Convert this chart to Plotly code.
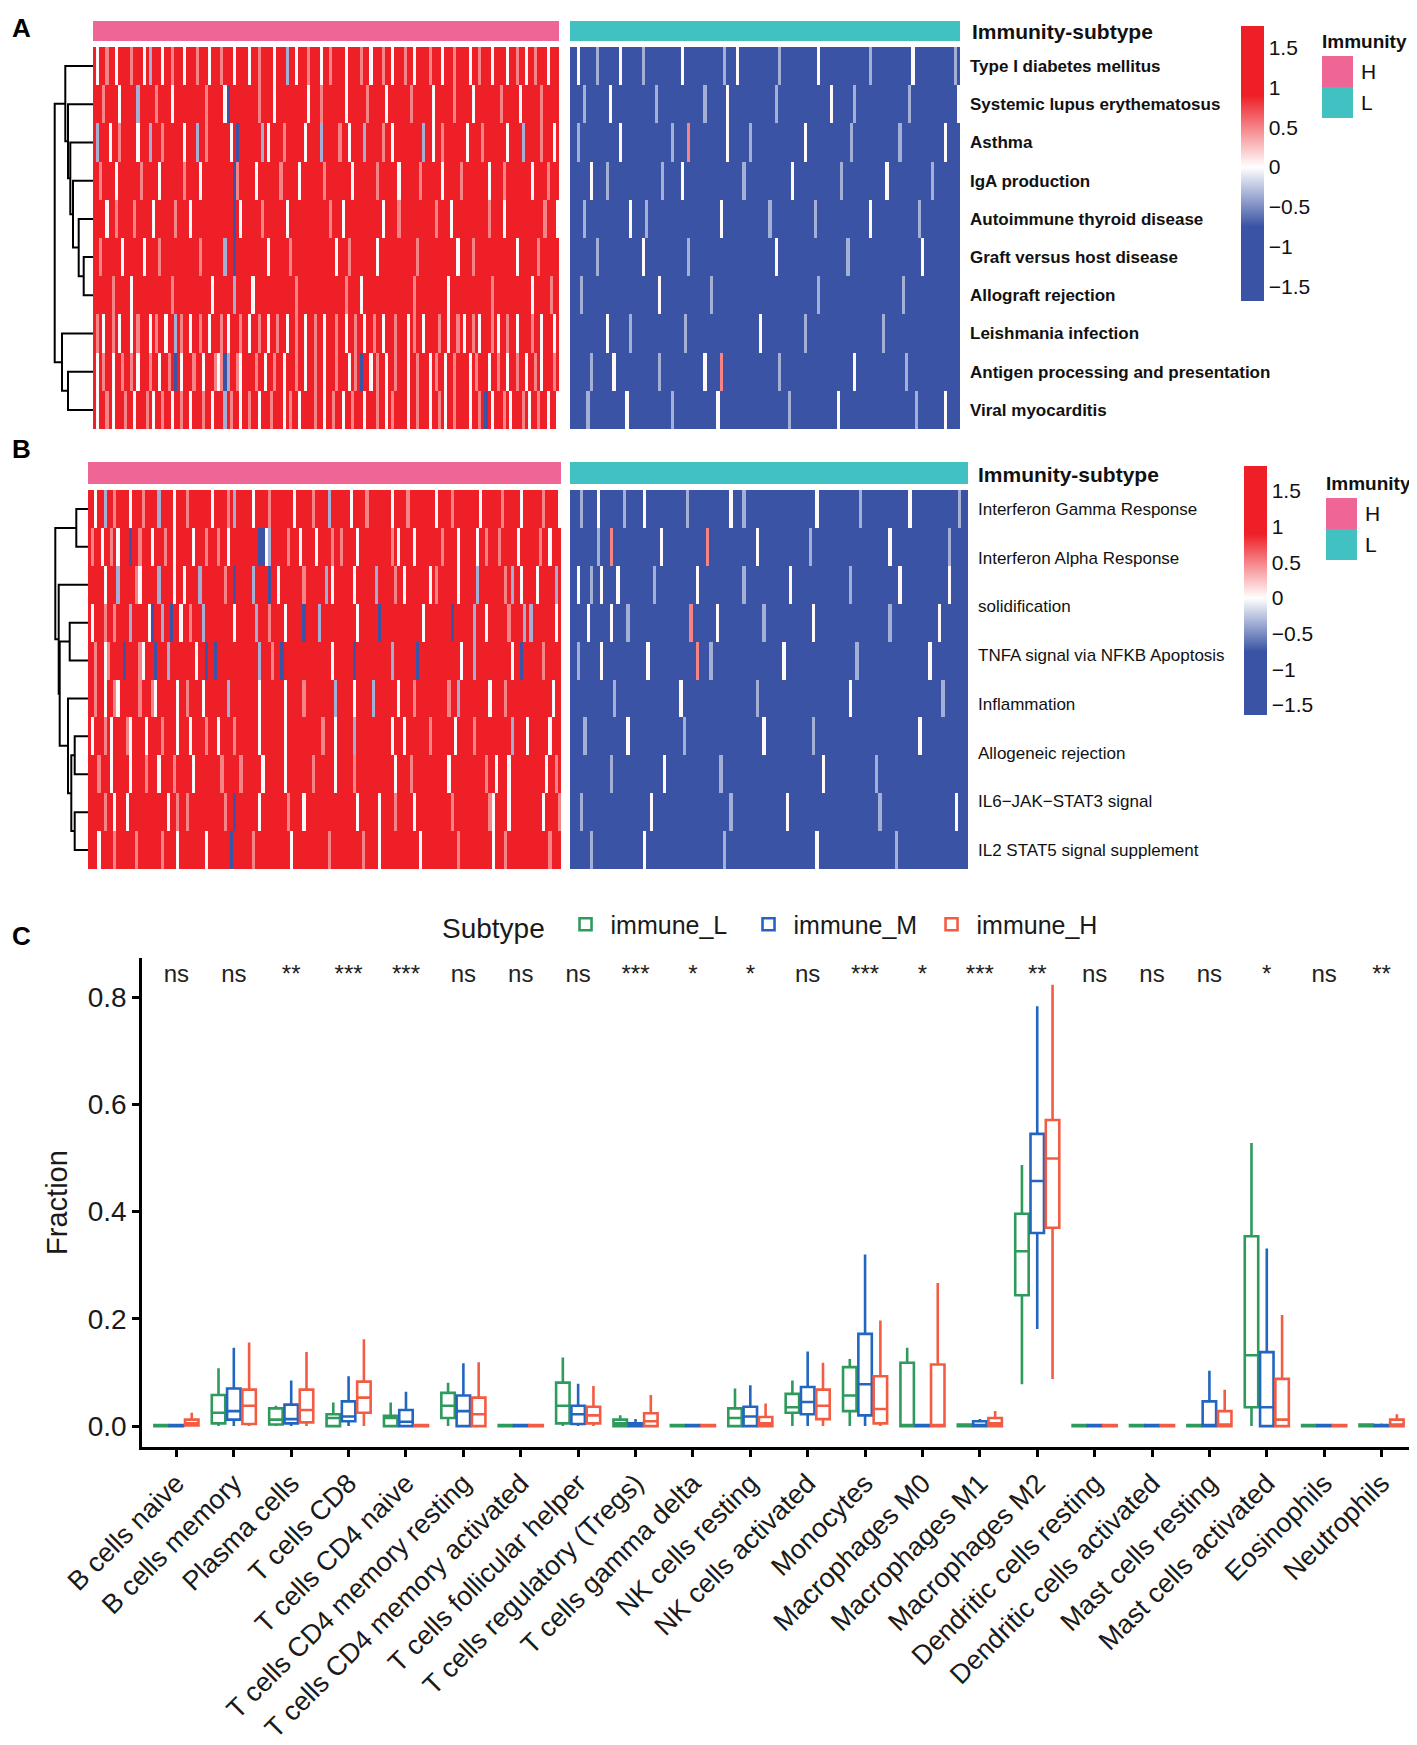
import plotly.graph_objects as go

W, H = 1417, 1745
FONT = "Liberation Sans, Arial, sans-serif"

# ---------------- data: panel A ----------------
pathways_a = [
    "Type I diabetes mellitus", "Systemic lupus erythematosus", "Asthma",
    "IgA production", "Autoimmune thyroid disease", "Graft versus host disease",
    "Allograft rejection", "Leishmania infection",
    "Antigen processing and presentation", "Viral myocarditis",
]

# one character per sample: R strong red ... B strong blue
rows_a_high = [
    "RwRRpRRwRR RRpRRRwRvR RRwRRpRRRw RRRpRRRwRR RpRRRwRRRR wRRpRRRRwR RRvRRwRRRp RRRwRRpRRR RwRRRRpRRw RRRpRRwRRR pRRwRRRRpR RRwRRRpRRR RwRRpRRRwR RRRwRRpRRw RRpRRRwRRR",
    "RRRpRRRRwR RRRRvRRRRR pRRRRwRRRR RRRRRRpRRR RRwbRRRRRR RRRpRRRRwR RRRRRRRRRw RRRpRRRRRR RwRRRRRRpR RRRRwRRRRR RRpRRRRRRw RRRRRRpRRR RRwRRRRRRR RpRRRRRwRR RRRRpRRRRR",
    "RvRRRwRRpR RRRRwRRRvR RRpRRRRRRw RRRvRRpRRR RRRRwRbRRR RRRRvRwRRR RpRRRRRRwR RRRvRRRRRp RRwRRRRvRR RRRpRRwRRR RRRRRRvRRw RRpRRRRRRR wRRRRpRRRR RRRwRRRRvR RRRRpRRRwR",
    "RRpRRRRwRR RRRRRpRRRR RwRRRRRRRp RRRRwRRRRR RRRRRbpRRR RRwRRRRRRR pRRRRRwRRR RRRRpRRRRR RRRwRRRRRR RpRRRRRRwR RRRRRpRRRR RRwRRRRRpR RRRRRRRwRR RRpRRRRRRR RwRRRRpRRR",
    "RRRRwRRpRR RRRpRRRRRw RRRRRRpRRR RwRRRRRRRR RRRRRbRwRR RRRRpRRRRR RRwRRRRRRR RRRRRRpRRR wRRRRRRRRR RRRwRRRRpR RRRRRRRRRR pRRRRwRRRR RRRRRRRpRR RRwRRRRRRR RRRRRpRRRw",
    "RRpRRRRRRw RRRRRRwRRR RpRRRRRRRR RRRRpRRRRR RRvRRbRRRR RRRRRRwRRR RRRpRRRRRR RRRRRRRRwR RRpRRRRRRR RwRRRRRRRR RRRRpRRRRR RRRRRRRwRR RRpRRRRRRR RRRRRRwRRR RRRpRRRRRR",
    "RRRRRRpRRR RRwRRRRRRR RRRRRpRRRR RRRRRRRRwR RRRRRvRRRR RwRRRRRRRR RRRRRpRRRR RRRRRRRRRR RpRRRRwRRR RRRRRRRRRR RRRpRRRRRR RRRRwRRRRR RRRRRRRRpR RRRRRRRRRR RwRRRRRpRR",
    "RpRwRRpRwR RRwRpRRRwR pRRwRRvRpR RwRRpRRwRR RpRwRRRpRR wRRpRRwRRp RRwRRpRRwR RpRRwRRRpR RwRRpRRwRR pRRwRRRpRR RwRpRRwRRR RpRRwRRpRw RRpRwRRRpR wRRpRRwRRR RpRRwRRRwR",
    "RwRpRRwRRp RRpRwRRRpR RwRRpRbRwR RRpRRwRRRp wpBvRRpwRR RRpRRwRRpR RwRRRpRRwR RpRRwRRRpR RRwRpRbRRw RpRRwRRpRR RwRRpRRRwR pRRwRRpRRR RwRpRRRwRR pRRwRRpRRw RRpRwRRRpR",
    "RwRRpRwRRR pRRwRRRpRw RRpRRwRRpR RwRRRpRRwR RRvRpRRwRR pRRwRRRpRR RwRpRRwRRR RpRRwRRpRR wRRpRRRwRR RpRRwRpRRR RwRRpRRRwR RpRwRRpRRR RwRRpRbRwR RRpRwRRRpR wRRpRRwRRw",
]
rows_a_low = [
    "BBwBBBBBvB BBBBBwBBBB BBvBBBBBBB BBBBwBBBBB BBBBBBBvBB BwBBBBBBBB BBBBvBBBBB BBBBBBwBBB BBBBBBBBBB BBvBBBBBBB BBBBBwBBBB BBBBBBBBvB",
    "BBBBvBBBBB BBwBBBBBBB BBBBBBvBBB BBBBBBBBBB BvBBBBBBwB BBBBBBBBBB BBBvBBBBBB BBBBBBBBBB wBBBBBBvBB BBBBBBBBBB BBBBvBBBBB BBBBBBBBBw",
    "BBvBBBBBBB BBBBBwBBBB BBBBBBBBBB BvBBBBpBBB BBBBBBBBwB BBBBBvBBBB BBBBBBBBBB BBwBBBBBBB BBBBBBvBBB BBBBBBBBBB BvBBBBBBBB BBBBBwBBBB",
    "BBBBBBwBBB BvBBBBBBBB BBBBBBBBvB BBBBwBBBBB BBBBBBBBBB BBBvBBBBBB BBBBBBBBwB BBBBBBBBBB BBBvBBBBBB BBBBBBBwBB BBBBBBBBBB BvBBBBBBBB",
    "BBBBvBBBBB BBBBBBBBwB BBBvBBBBBB BBBBBBBBBB BBBBBBwBBB BBBBBBBBBB BvBBBBBBBB BBBBBvBBBB BBBBBBBBBB BBwBBBBBBB BBBBBBBvBB BBBBBBBBBB",
    "BBBBBBBBvB BBBBBBBBBB BBwBBBBBBB BBBBBBvBBB BBBBBBBBBB BBBBBBBBBB BBBwBBBBBB BBBBBBBBBB BBBBBvBBBB BBBBBBBBBB BBBBBBBBwB BBBBBBBBBB",
    "BBBvBBBBBB BBBBBBBBBB BBBBBBBwBB BBBBBBBBBB BBBvBBBBBB BBBBBBBBBB BBBBBBBBBB BBBBBBvBBB BBBBBBBBBB BBBBBBBBBB BBvBBBBBBB BBBBBBBBBB",
    "BBBBBBBBBB BwBBBBBBvB BBBBBBBBBB BBBBBvBBBB BBBBBBBBBB BBBBBBBBwB BBBBBBBBBB BBvBBBBBBB BBBBBBBBBB BBBBBBvBBB BBBBBBBBBB BBBBBBBBBB",
    "BBBBBBvBBB BBBwBBBBBB BBBBBBBvBB BBBBBBBBBB BwBBBBpBBB BBBBBBBBBB BBBBvBBBBB BBBBBBBBBB BBBBBBBwBB BBBBBBBBBB BBBvBBBBBB BBBBBBBBBB",
    "BBBBBvBBBB BBBBBBBwBB BBBBBBBBBB BvBBBBBBBB BBBBBwBBBB BBBBBBBBBB BBBBBBBvBB BBBBBBBBBB BBwBBBBBBB BBBBBBBBBB BBBBBBvBBB BBBBBwBBBB",
]
# (left node, right node, height); new clusters are numbered from 10 upwards
merges_a = [(5, 6, 9.3), (4, 10, 14.3), (3, 11, 20.0), (2, 12, 22.7), (1, 13, 25.0),
            (0, 14, 27.7), (8, 9, 25.0), (7, 16, 31.0), (15, 17, 38.3)]

# ---------------- data: panel B ----------------
pathways_b = [
    "Interferon Gamma Response", "Interferon Alpha Response", "solidification",
    "TNFA signal via NFKB Apoptosis", "Inflammation", "Allogeneic rejection",
    "IL6\u2212JAK\u2212STAT3 signal", "IL2 STAT5 signal supplement",
]
rows_b_high = [
    "RRwRRvRRpR RRRwRRRpRR RRvRRRRwRR RpRRRRRRRw RRRRpRvRRR RRwRRRRpRR RRRRRwRRRR RpRRRRvRRR RRRwRRRRpR RRRRRRwRRR RpRRRRRRRR wRRRRpRRRR RRRRwRRRRR RpRRRRRwRR RRRRpRRRRw",
    "RpRRwRRpRw RRRbRRpRRR wRRRpRRwRR RRRwRRRpRR RpRRwRRRRR RRRRbBwvRR RRRpRRRwRR RRwRRRRpRR pRRRRwRRRR RRRRRRpRwR RRRwRRRRRR RRpRRRRwRR RRRwRRpRRR pRRRRRwRRR RRRpRRwRRR",
    "RRRRRwRRRv RRRRRpwRRR RRvRRRRwRR wRRRRvRRRR RRRpRRbRRR RRvRRRRbRR wRRRRRRRpR RRRRRvRwRR RRRRwRRRRR RvRRRRRpRR wRRRRRRRwR pRRRRRRwRR RRRvRRRRRR RRpRvRRwRR RRwRRRRRvR",
    "RwRRRpRRpR RRRvRRRRRw bRRvRRbRRw RRpRRRvRRR RRRRRRwRRR RRRvRRRpRR RRwRRRRRbR RRRvRRRRRR RRRRRwRRRR RRbRRRRRRR RRRRRRwRRR RRRRRbRRRR RRvRRRwRRR RRRpRRRRvR vRRRRRRRwR",
    "RRpRRwpRRR RbRRRRpwRR RbRRRvRRRR RRRRwRRbRR bRRRRRRRRR RRRRvRRRpR RbRRRRRRRR RRRRRRRwRR RRRRbRRRRR RRRRRRvRRR RRRRbRRRRR RRRRRRRRwR RRvRRRRRRR RRRRwRRbRR RRRRpRRRRR",
    "RRpRRwRRpw RRRRRRpRRR pwRRRRRRwR RpRRRRwRRR RRRRvRRRRR RRRRwRRRRR RRwRRRRRpR RRRRRRRRvR RRRRwRRRRR vRRRRRRRwR RRRpRRRRRR RRRRpRRvRR RRRRRRRwRR RRpRRRRRRR RRRRRRRwRR",
    "RwRRRpRwRR RRpwRRRRwR RRRpRRRRwR RRwRRRRpRR RwRRRRpRRR RRRRwRRRRR RRwRRRRRRR RRRRpRRRwR RRRRvRRRRR RRRRRRwRRR wRRRRRRRpR RRRRRRwRRR RRpRRRRRRR RRRRvRRRRw RRRRRRwRRR",
    "RRRpRRRwRR RRRwRRRRpR RRwRRRRpRR RRRwRRRRRR RRpRRRRRpR RRRRRwRRRR RRwRRRRRRR RpRRRRRRwR RRRRpRRRRR RRRRRRRwRR RRpRRRRRRR RRRRwRRRRR RRRRRRpRRw RRRwRRRRRR RRRRRwRRpR",
    "RRRRRpRRwR RRwRRRRRRR RRRRRwRRpR RpRRRRRRRR RRRpRRbRRR RRRRwRRRRR RRRpRRRRwR RRRRRRRRRR RRRRRwRRRR RRwRRRRpRR RRRwRRRRRR RRRRRpRRRR RRRRRRRpwR RRRwRRRRRR RRRRwRRRRp",
    "RRRwRRRRpR RRRRRpRRRR RRRpRRRRwR RRRRRRRwRR RRRRRbRRRR RRpRRRRRRR RRRRwRRRRR RRRRRRpRRR RRRRRRRpRR RRwRRRRRRR RRRRRwRRRR RRRRRRRpRR RRRRRRRRwR RRpRRRRRRR RRRRRRpRRR",
]
rows_b_low = [
    "BBBvBBBBwB BBBBBBvBBB BBwBBBBBBB BBBBBvBBBB BBBBBBBBwB BBvBBBBBBB BBBBBBBBBB BBBBwBBBBB BBBBBBBvBB BBBBBBBBBB BBwBBBBBBB BBBBBBBvBB",
    "BBBBBBBBvB BBpBBBBBBB BBBBBBBwBB BBBBBBBBBB BpBBBBBBBB BBBBBBwBBB BBBBBBBBBB BBvBBBBBBB BBBBBBBBBB BBBBBBwBBB BBBBBBBBBB BBBBvBBBBB",
    "BBwBBBvBBw BBBBwBBBBB BBBBBvBBBB BBBBBBBBwB BBBBBBBBBB BBvBBBBBBB BBBBBBwBBB BBBBBBBBBB BBBBvBBBBB BBBBBBBBBw BBBBBBBBBB BBBBwBBBBB",
    "BBBBBwBBBB BBwBBBBvBB BBBBBBBBBB BBBBBBpBBB BBBBwBBBBB BBBBBBBBvB BBBBBBBBBB BBBwBBBBBB BBBBBBBBBB BBBBBBvBBB BBBBBBBBBB BwBBBBBBBB",
    "BBvBBBBBBw BBBBBBBBBB BBBwBBBBBB BBBBBBBBpB BBvBBBBBBB BBBBBBBBBB BBBBwBBBBB BBBBBBBBBB BBBBBBvBBB BBBBBBBBBB BBBBBBBBwB BBBBBBBBBB",
    "BBBBBBBBBB BBBvBBBBBB BBBBBBBBBB BBBwBBBBBB BBBBBBBBBB BBBBBBvBBB BBBBBBBBBB BBBBBBBBBB BBBBwBBBBB BBBBBBBBBB BBBBBBBBBB BBvBBBBBBB",
    "BBBBvBBBBB BBBBBBBwBB BBBBBBBBBB BBBBvBBBBB BBBBBBBBBB BBBBBBBBwB BBBBBBBBBB BBBvBBBBBB BBBBBBBBBB BBBBBBBBBB BBBBBwBBBB BBBBBBBBBB",
    "BBBBBBBBBB BBvBBBBBBB BBBBBBBBwB BBBBBBBBBB BBBBBvBBBB BBBBBBBBBB BBBBBBBBBB BBBBBBwBBB BBBBBBBBBB BBvBBBBBBB BBBBBBBBBB BBBBBBBBBB",
    "BBBvBBBBBB BBBBBBBBBB BBBBwBBBBB BBBBBBBBBB BBBBBBBBvB BBBBBBBBBB BBBBBwBBBB BBBBBBBBBB BBBBBBBBBB BBBvBBBBBB BBBBBBBBBB BBBBBBwBBB",
    "BBBBBBvBBB BBBBBBBBBB BBwBBBBBBB BBBBBBBBBB BBBBBBvBBB BBBBBBBBBB BBBBBBBBBB BBBBwBBBBB BBBBBBBBBB BBBBBBBBvB BBBBBBBBBB BBBBBBBBBB",
]
merges_b = [(0, 1, 11.7), (3, 4, 18.3), (6, 7, 13.3), (8, 9, 13.3), (12, 13, 16.7),
            (5, 14, 20.0), (11, 15, 28.3), (2, 16, 29.3), (10, 17, 32.7)]

# score of each cell code
level = {"B": -1.6, "b": -1.15, "v": -0.35, "w": 0.03, "p": 0.5, "r": 1.0, "R": 1.6}

# ---------------- data: panel C ----------------
cells = [
    "B cells naive", "B cells memory", "Plasma cells", "T cells CD8", "T cells CD4 naive",
    "T cells CD4 memory resting", "T cells CD4 memory activated", "T cells follicular helper",
    "T cells regulatory (Tregs)", "T cells gamma delta", "NK cells resting", "NK cells activated",
    "Monocytes", "Macrophages M0", "Macrophages M1", "Macrophages M2", "Dendritic cells resting",
    "Dendritic cells activated", "Mast cells resting", "Mast cells activated", "Eosinophils",
    "Neutrophils",
]
signif = ["ns", "ns", "**", "***", "***", "ns", "ns", "ns", "***", "*", "*", "ns",
          "***", "*", "***", "**", "ns", "ns", "ns", "*", "ns", "**"]

# (lower whisker, q1, median, q3, upper whisker)
stats_L = [
    (0, 0, 0, 0.002, 0.004), (0, 0.005, 0.025, 0.058, 0.108), (0, 0.003, 0.012, 0.033, 0.038),
    (0, 0, 0.015, 0.022, 0.044), (0, 0, 0.015, 0.019, 0.044), (0, 0.015, 0.038, 0.062, 0.081),
    (0, 0, 0, 0.002, 0.003), (0, 0.005, 0.038, 0.081, 0.128), (0, 0, 0.005, 0.012, 0.02),
    (0, 0, 0, 0.002, 0.003), (0, 0, 0.015, 0.033, 0.07), (0, 0.025, 0.035, 0.06, 0.085),
    (0, 0.028, 0.057, 0.11, 0.125), (0, 0, 0, 0.118, 0.146), (0, 0, 0, 0.003, 0.005),
    (0.078, 0.244, 0.326, 0.396, 0.487), (0, 0, 0, 0.002, 0.003), (0, 0, 0, 0.002, 0.003),
    (0, 0, 0, 0.002, 0.003), (0, 0.035, 0.132, 0.354, 0.528), (0, 0, 0, 0.002, 0.003),
    (0, 0, 0, 0.003, 0.005),
]
stats_M = [
    (0, 0, 0, 0.002, 0.004), (0, 0.012, 0.028, 0.07, 0.146), (0, 0.005, 0.013, 0.04, 0.085),
    (0, 0.009, 0.018, 0.046, 0.093), (0, 0, 0.008, 0.03, 0.064), (0, 0, 0.028, 0.057, 0.117),
    (0, 0, 0, 0.002, 0.003), (0, 0.004, 0.022, 0.038, 0.079), (0, 0, 0.002, 0.005, 0.013),
    (0, 0, 0, 0.002, 0.003), (0, 0, 0.018, 0.036, 0.076), (0, 0.022, 0.045, 0.073, 0.139),
    (0, 0.02, 0.078, 0.172, 0.32), (0, 0, 0, 0.002, 0.003), (0, 0, 0.002, 0.009, 0.013),
    (0.181, 0.36, 0.457, 0.545, 0.783), (0, 0, 0, 0.002, 0.003), (0, 0, 0, 0.002, 0.003),
    (0, 0, 0, 0.046, 0.103), (0, 0, 0.035, 0.138, 0.331), (0, 0, 0, 0.002, 0.003),
    (0, 0, 0, 0.002, 0.005),
]
stats_H = [
    (0, 0.001, 0.005, 0.012, 0.025), (0, 0.004, 0.038, 0.068, 0.156), (0, 0.007, 0.03, 0.068, 0.138),
    (0, 0.025, 0.053, 0.083, 0.162), (0, 0, 0, 0.002, 0.004), (0, 0, 0.022, 0.053, 0.119),
    (0, 0, 0, 0.002, 0.003), (0, 0.005, 0.02, 0.036, 0.075), (0, 0, 0.009, 0.024, 0.058),
    (0, 0, 0, 0.002, 0.003), (0, 0, 0.005, 0.017, 0.042), (0, 0.013, 0.038, 0.068, 0.118),
    (0, 0.005, 0.032, 0.093, 0.197), (0, 0, 0, 0.115, 0.267), (0, 0, 0.005, 0.015, 0.028),
    (0.088, 0.37, 0.499, 0.571, 0.823), (0, 0, 0, 0.002, 0.003), (0, 0, 0, 0.002, 0.003),
    (0, 0, 0.003, 0.028, 0.068), (0, 0, 0.012, 0.088, 0.207), (0, 0, 0, 0.002, 0.003),
    (0, 0, 0.003, 0.012, 0.022),
]

# colours
RED, BLUE, WHITE = "#EE1F26", "#3A53A4", "#FFFFFF"
PINK, TEAL = "#EF6595", "#41C1C1"
sub_colors = {"immune_L": "#2E9A5C", "immune_M": "#2266C0", "immune_H": "#F25C43"}


def fx(px):
    return px / W


def fy(px):
    return 1 - px / H


def decode(rows):
    return [[level[c] for c in "".join(r.split())] for r in rows]


def ramp(zmin, zmax):
    stops = [(zmin, BLUE), (-0.75, BLUE), (0, WHITE), (0.9, RED), (zmax, RED)]
    return [[(v - zmin) / (zmax - zmin), c] for v, c in stops]


def dendro(merges, n):
    pos = {i: float(i) for i in range(n)}
    hgt = {i: 0.0 for i in range(n)}
    xs, ys = [], []
    for k, (a, b, h) in enumerate(merges):
        xs += [hgt[a], h, h, hgt[b], None]
        ys += [pos[a], pos[a], pos[b], pos[b], None]
        pos[n + k] = (pos[a] + pos[b]) / 2
        hgt[n + k] = h
    return xs, ys


def xkey(a):
    return "xaxis" + a[1:]


def ykey(a):
    return "yaxis" + a[1:]


fig = go.Figure()
hidden = dict(visible=False, automargin=False, showgrid=False, zeroline=False)

# --- heatmap panels ---
panels = [
    dict(hi=decode(rows_a_high), lo=decode(rows_a_low), merges=merges_a, labels=pathways_a,
         xs=["x", "x2", "x3"], ys=["y", "y2"], cax="coloraxis",
         hx=(85, 551), lx=(562, 952), top=39, bot=421, bar=(13, 33), dend=44, bold=True),
    dict(hi=decode(rows_b_high), lo=decode(rows_b_low), merges=merges_b, labels=pathways_b,
         xs=["x4", "x5", "x6"], ys=["y3", "y4"], cax="coloraxis2",
         hx=(80, 553), lx=(562, 960), top=482, bot=861, bar=(454, 476), dend=40, bold=False),
]

for p in panels:
    nrow = len(p["hi"])
    xh, xl, xd = p["xs"]
    yr, yb = p["ys"]
    for z, xa, col in [(p["hi"], xh, PINK), (p["lo"], xl, TEAL)]:
        ncol = len(z[0])
        fig.add_trace(go.Heatmap(z=z, x=list(range(ncol)), y=list(range(nrow)),
                                 coloraxis=p["cax"], xaxis=xa, yaxis=yr, hoverinfo="skip"))
        fig.add_trace(go.Heatmap(z=[[1] * ncol], x=list(range(ncol)), y=[0],
                                 colorscale=[[0, col], [1, col]], showscale=False,
                                 xaxis=xa, yaxis=yb, hoverinfo="skip"))
    dx, dy = dendro(p["merges"], nrow)
    fig.add_trace(go.Scatter(x=dx, y=dy, mode="lines", line=dict(color="black", width=2),
                             xaxis=xd, yaxis=yr, showlegend=False, hoverinfo="skip"))

    fig.layout[xkey(xh)] = dict(domain=[fx(p["hx"][0]), fx(p["hx"][1])],
                                range=[-0.5, len(p["hi"][0]) - 0.5], anchor=yr, **hidden)
    fig.layout[xkey(xl)] = dict(domain=[fx(p["lx"][0]), fx(p["lx"][1])],
                                range=[-0.5, len(p["lo"][0]) - 0.5], anchor=yr, **hidden)
    fig.layout[xkey(xd)] = dict(domain=[fx(p["dend"]), fx(p["hx"][0])],
                                range=[p["hx"][0] - p["dend"], 0], anchor=yr, **hidden)
    nlab = len(p["labels"])
    tickvals = [i * (nrow - 1) / (nlab - 1) for i in range(nlab)]
    ticktext = [("<b>%s</b>" % t) if p["bold"] else t for t in p["labels"]]
    fig.layout[ykey(yr)] = dict(
        domain=[fy(p["bot"]), fy(p["top"])], range=[nrow - 0.5, -0.5],
        anchor="free", position=fx(p["lx"][1]), side="right",
        tickvals=tickvals, ticktext=ticktext, ticks="", showline=False,
        showgrid=False, zeroline=False, automargin=False, ticklabelstandoff=9,
        tickfont=dict(size=17, color="#111111", family=FONT),
    )
    fig.layout[ykey(yb)] = dict(domain=[fy(p["bar"][1]), fy(p["bar"][0])],
                                range=[-0.5, 0.5], anchor=xh, **hidden)

cbar_ticks = [-1.5, -1, -0.5, 0, 0.5, 1, 1.5]
cbar_text = [("%g" % v).replace("-", "\u2212") for v in cbar_ticks]


def cbar(x0, y0, y1):
    return dict(x=fx(x0), xanchor="left", y=fy((y0 + y1) / 2), yanchor="middle",
                len=y1 - y0, lenmode="pixels", thickness=23, outlinewidth=0,
                xpad=0, ypad=0, tickvals=cbar_ticks, ticktext=cbar_text, ticks="",
                tickfont=dict(size=21, color="#111111", family=FONT))


fig.update_layout(
    coloraxis=dict(cmin=-1.68, cmax=1.77, colorscale=ramp(-1.68, 1.77),
                   colorbar=cbar(1233, 18, 293)),
    coloraxis2=dict(cmin=-1.64, cmax=1.85, colorscale=ramp(-1.64, 1.85),
                    colorbar=cbar(1236, 458, 707)),
)

# --- panel C boxplots ---
for name, stats in [("immune_L", stats_L), ("immune_M", stats_M), ("immune_H", stats_H)]:
    lo, q1, med, q3, hi = zip(*stats)
    fig.add_trace(go.Box(
        name=name, x=cells, lowerfence=list(lo), q1=list(q1), median=list(med),
        q3=list(q3), upperfence=list(hi), boxpoints=False, whiskerwidth=0,
        line=dict(color=sub_colors[name], width=2.6), fillcolor="white",
        xaxis="x7", yaxis="y5", hoverinfo="skip",
    ))

fig.add_trace(go.Scatter(
    x=cells, y=[0.84] * len(cells), mode="text", text=signif,
    textfont=dict(size=24, color="#222222", family=FONT), cliponaxis=False,
    showlegend=False, xaxis="x7", yaxis="y5", hoverinfo="skip",
))

axis_c = dict(showline=True, linecolor="black", linewidth=2.5, ticks="outside",
              ticklen=7, tickwidth=2.5, tickcolor="black", showgrid=False,
              zeroline=False, automargin=False)
fig.update_layout(
    xaxis7=dict(domain=[fx(134), fx(1408)], anchor="y5", type="category",
                categoryorder="array", categoryarray=cells, range=[-0.6, len(cells) - 0.4],
                tickangle=-45, tickfont=dict(size=27, color="#1a1a1a", family=FONT), **axis_c),
    yaxis5=dict(domain=[fy(1439), fy(950)], anchor="x7", range=[-0.039, 0.873],
                tickvals=[0, 0.2, 0.4, 0.6, 0.8],
                ticktext=["0.0", "0.2", "0.4", "0.6", "0.8"],
                tickfont=dict(size=28, color="#1a1a1a", family=FONT),
                title=dict(text="Fraction", font=dict(size=29, color="#1a1a1a", family=FONT),
                           standoff=12),
                **axis_c),
    boxmode="group", boxgap=0.2, boxgroupgap=0.12,
    legend=dict(orientation="h", x=fx(432), y=fy(917), xanchor="left", yanchor="middle",
                title=dict(text="Subtype ", font=dict(size=28, color="#1a1a1a"), side="left"),
                font=dict(size=25, color="#1a1a1a", family=FONT), bgcolor="rgba(0,0,0,0)",
                itemwidth=40, entrywidth=128, entrywidthmode="pixels"),
)

# --- labels, annotation legends ---
ann = []
for letter, y in [("A", 20), ("B", 441), ("C", 928)]:
    ann.append(dict(text="<b>%s</b>" % letter, x=fx(2), y=fy(y), xanchor="left",
                    yanchor="middle", font=dict(size=26, color="black")))
for x0, y0 in [(962, 23), (968, 466)]:
    ann.append(dict(text="<b>Immunity-subtype</b>", x=fx(x0), y=fy(y0), xanchor="left",
                    yanchor="middle", font=dict(size=21, color="#111111")))

shapes = []
for x0, yt in [(1314, 33), (1318, 475)]:
    ann.append(dict(text="<b>Immunity</b>", x=fx(x0 - 2), y=fy(yt), xanchor="left",
                    yanchor="middle", font=dict(size=19, color="#111111")))
    for i, (lab, col) in enumerate([("H", PINK), ("L", TEAL)]):
        ya = yt + 15 + i * 31
        shapes.append(dict(type="rect", xref="paper", yref="paper", x0=fx(x0), x1=fx(x0 + 31),
                           y0=fy(ya + 31), y1=fy(ya), fillcolor=col, line=dict(width=0)))
        ann.append(dict(text=lab, x=fx(x0 + 37), y=fy(ya + 15.5), xanchor="left",
                        yanchor="middle", font=dict(size=21, color="#111111")))

for a in ann:
    a.update(xref="paper", yref="paper", showarrow=False)

fig.update_layout(
    width=W, height=H, annotations=ann, shapes=shapes,
    margin=dict(l=0, r=0, t=0, b=0, autoexpand=False),
    paper_bgcolor="white", plot_bgcolor="white",
    font=dict(family=FONT, color="#111111"),
)

fig.write_html("out.html")
